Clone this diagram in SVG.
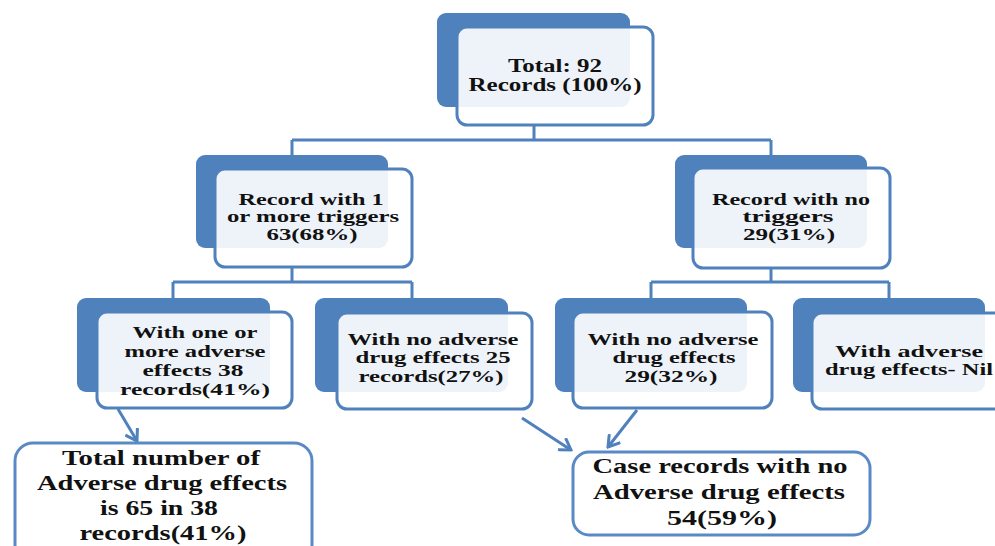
<svg xmlns="http://www.w3.org/2000/svg" width="995" height="546" viewBox="0 0 995 546">
<style>
.back{fill:#4f81bd;}
.front{fill:#ffffff;fill-opacity:0.9;stroke:#4f81bd;stroke-width:3;}
.box{fill:#ffffff;stroke:#5a8ac6;stroke-width:3;}
.conn{fill:none;stroke:#4f81bd;stroke-width:3;}
.t{font-family:"Liberation Serif","Times New Roman",serif;font-weight:bold;font-size:16px;fill:#111;text-anchor:middle;}
.t2{font-family:"Liberation Serif","Times New Roman",serif;font-weight:bold;font-size:18px;fill:#111;text-anchor:middle;}
.tb{font-family:"Liberation Serif","Times New Roman",serif;font-weight:bold;font-size:21px;fill:#111;text-anchor:middle;}
</style>
<defs>
<marker id="ah" markerUnits="userSpaceOnUse" markerWidth="16" markerHeight="16" viewBox="0 0 16 16" refX="14" refY="8" orient="auto">
<path d="M3,1 L14,8 L3,15" fill="none" stroke="#4f81bd" stroke-width="3"/>
</marker>
</defs>
<rect width="995" height="546" fill="#ffffff"/>
<g id="connectors">
<path class="conn" d="M534,125 V140 M292,140 H771 M292,140 V155 M771,140 V155"/>
<path class="conn" d="M292,267 V282 M173,282 H412 M173,282 V298 M412,282 V298"/>
<path class="conn" d="M771,268 V282 M651,282 H889 M651,282 V298 M889,282 V298"/>
<path class="conn" d="M118,409 L137,441" marker-end="url(#ah)"/>
<path class="conn" d="M522,418 L571,450" marker-end="url(#ah)"/>
<path class="conn" d="M637,410 L608,447" marker-end="url(#ah)"/>
</g>
<g id="n-total">
<rect class="back" x="437" y="13" width="193" height="94" rx="9"/>
<rect class="front" x="457" y="27" width="196" height="98" rx="10"/>
<text class="t2" x="555" y="72" textLength="94" lengthAdjust="spacingAndGlyphs">Total: 92</text>
<text class="t2" x="555" y="91" textLength="173" lengthAdjust="spacingAndGlyphs">Records (100%)</text>
</g>
<g id="n-triggers">
<rect class="back" x="196" y="155" width="192" height="93" rx="9"/>
<rect class="front" x="215" y="169" width="197" height="98" rx="10"/>
<text class="t" x="311" y="205" textLength="145" lengthAdjust="spacingAndGlyphs">Record with 1</text>
<text class="t" x="313" y="222" textLength="172" lengthAdjust="spacingAndGlyphs">or more triggers</text>
<text class="t" x="312" y="240" textLength="91" lengthAdjust="spacingAndGlyphs">63(68%)</text>
</g>
<g id="n-notriggers">
<rect class="back" x="675" y="155" width="192" height="93" rx="9"/>
<rect class="front" x="693" y="168" width="197" height="100" rx="10"/>
<text class="t" x="791" y="205" textLength="158" lengthAdjust="spacingAndGlyphs">Record with no</text>
<text class="t" x="788" y="222" textLength="91" lengthAdjust="spacingAndGlyphs">triggers</text>
<text class="t" x="789" y="240" textLength="92" lengthAdjust="spacingAndGlyphs">29(31%)</text>
</g>
<g id="n-ade">
<rect class="back" x="77" y="298" width="193" height="94" rx="9"/>
<rect class="front" x="97" y="312" width="195" height="96" rx="10"/>
<text class="t" x="195" y="338" textLength="125" lengthAdjust="spacingAndGlyphs">With one or</text>
<text class="t" x="195" y="357" textLength="141" lengthAdjust="spacingAndGlyphs">more adverse</text>
<text class="t" x="193" y="376" textLength="101" lengthAdjust="spacingAndGlyphs">effects 38</text>
<text class="t" x="195" y="395" textLength="150" lengthAdjust="spacingAndGlyphs">records(41%)</text>
</g>
<g id="n-noade25">
<rect class="back" x="315" y="298" width="193" height="94" rx="9"/>
<rect class="front" x="337" y="313" width="195" height="96" rx="10"/>
<text class="t" x="433" y="345" textLength="171" lengthAdjust="spacingAndGlyphs">With no adverse</text>
<text class="t" x="433" y="363" textLength="155" lengthAdjust="spacingAndGlyphs">drug effects 25</text>
<text class="t" x="431" y="382" textLength="145" lengthAdjust="spacingAndGlyphs">records(27%)</text>
</g>
<g id="n-noade29">
<rect class="back" x="555" y="298" width="192" height="94" rx="9"/>
<rect class="front" x="573" y="312" width="199" height="96" rx="10"/>
<text class="t" x="673" y="345" textLength="171" lengthAdjust="spacingAndGlyphs">With no adverse</text>
<text class="t" x="674" y="363" textLength="123" lengthAdjust="spacingAndGlyphs">drug effects</text>
<text class="t" x="671" y="382" textLength="93" lengthAdjust="spacingAndGlyphs">29(32%)</text>
</g>
<g id="n-nil">
<rect class="back" x="793" y="298" width="192" height="94" rx="9"/>
<rect class="front" x="812" y="313" width="200" height="96" rx="10"/>
<text class="t" x="909" y="357" textLength="148" lengthAdjust="spacingAndGlyphs">With  adverse</text>
<text class="t" x="909" y="375" textLength="168" lengthAdjust="spacingAndGlyphs">drug effects- Nil</text>
</g>
<g id="n-total-ade">
<rect class="box" x="15" y="443" width="297" height="120" rx="18"/>
<text class="tb" x="161" y="465" textLength="198" lengthAdjust="spacingAndGlyphs">Total number of</text>
<text class="tb" x="162" y="490" textLength="250" lengthAdjust="spacingAndGlyphs">Adverse drug effects</text>
<text class="tb" x="159" y="515" textLength="118" lengthAdjust="spacingAndGlyphs">is 65 in 38</text>
<text class="tb" x="163" y="540" textLength="167" lengthAdjust="spacingAndGlyphs">records(41%)</text>
</g>
<g id="n-case-noade">
<rect class="box" x="573" y="452" width="297" height="83" rx="16"/>
<text class="tb" x="720" y="473" textLength="255" lengthAdjust="spacingAndGlyphs">Case records with no</text>
<text class="tb" x="719" y="499" textLength="252" lengthAdjust="spacingAndGlyphs">Adverse drug effects</text>
<text class="tb" x="722" y="525" textLength="110" lengthAdjust="spacingAndGlyphs">54(59%)</text>
</g>
</svg>
